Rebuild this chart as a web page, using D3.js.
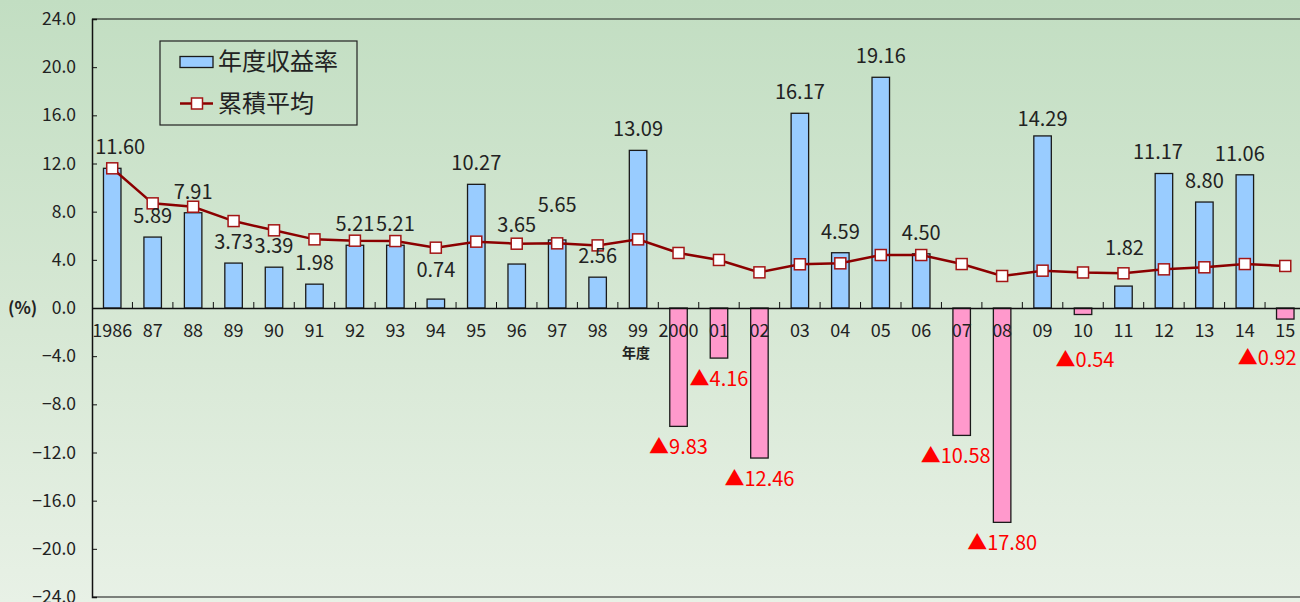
<!DOCTYPE html>
<html>
<head>
<meta charset="utf-8">
<script src="https://cdn.jsdelivr.net/npm/d3@7"></script>
<style>
  body { margin: 0; overflow: hidden; }
  svg { display: block; font-family: "Noto Sans CJK JP", "Noto Sans", sans-serif; }
</style>
</head>
<body>
<div id="chart"></div>
<script>
// data
var years = ['1986', '87', '88', '89', '90', '91', '92', '93', '94', '95', '96', '97', '98', '99', '2000',
             '01', '02', '03', '04', '05', '06', '07', '08', '09', '10', '11', '12', '13', '14', '15']
var annualReturn = [11.60, 5.89, 7.91, 3.73, 3.39, 1.98, 5.21, 5.21, 0.74, 10.27, 3.65, 5.65, 2.56, 13.09, -9.83,
                    -4.16, -12.46, 16.17, 4.59, 19.16, 4.50, -10.58, -17.80, 14.29, -0.54, 1.82, 11.17, 8.80, 11.06, -0.92]
var cumulativeAvg = [11.60, 8.69, 8.41, 7.22, 6.45, 5.70, 5.59, 5.56, 5.01, 5.51, 5.34, 5.37, 5.20, 5.70, 4.57,
                     3.99, 2.96, 3.63, 3.71, 4.40, 4.40, 3.65, 2.66, 3.10, 2.95, 2.88, 3.21, 3.38, 3.65, 3.49]
var yTicks = [24, 20, 16, 12, 8, 4, 0, -4, -8, -12, -16, -20, -24]
var seriesNames = ['年度収益率', '累積平均']

// labels that were moved by hand in the original (pixels)
var labelNudge = { '1986': [8, 0], '94': [0, -8], '96': [0, -18], '97': [0, -14], '09': [0, 4], '11': [1, -17],
                   '12': [-6, 0], '14': [-5, 0], '07': [-6, 0], '10': [2, 24], '15': [-18, 18] }

var W = 1300, H = 602
var margin = { left: 92, top: 19, bottom: 5 }
var step = 40.45

var svg = d3.select('#chart').append('svg')
    .attr('width', W)
    .attr('height', H)

var defs = svg.append('defs')
var grad = defs.append('linearGradient')
    .attr('id', 'bg')
    .attr('x1', 0).attr('y1', 0).attr('x2', 0).attr('y2', 1)
grad.append('stop').attr('offset', '0%').attr('stop-color', '#c2dec2')
grad.append('stop').attr('offset', '50%').attr('stop-color', '#d5e7d3')
grad.append('stop').attr('offset', '100%').attr('stop-color', '#e8f1e6')

svg.append('rect')
    .attr('width', W)
    .attr('height', H)
    .attr('fill', 'url(#bg)')

var x = d3.scaleBand()
    .domain(years)
    .range([margin.left, margin.left + step * years.length])
    .paddingInner(0)

var y = d3.scaleLinear()
    .domain([-24, 24])
    .range([H - margin.bottom, margin.top])

var barW = 17.5

// plot frame
svg.append('line')
    .attr('x1', margin.left).attr('x2', W + 10)
    .attr('y1', y(24)).attr('y2', y(24))
    .attr('stroke', '#111').attr('stroke-width', 1.2)
svg.append('line')
    .attr('x1', margin.left).attr('x2', W + 10)
    .attr('y1', y(-24)).attr('y2', y(-24))
    .attr('stroke', '#111').attr('stroke-width', 1.2)

// y axis, ticks point inwards
var yAxis = d3.axisRight(y)
    .tickValues(yTicks)
    .tickSize(5)
    .tickFormat('')
svg.append('g')
    .attr('transform', 'translate(' + margin.left + ',0)')
    .call(yAxis)
    .call(function(g){
        g.select('.domain').attr('stroke', '#111').attr('stroke-width', 1.5)
        g.selectAll('line').attr('stroke', '#111')
    })

svg.append('g')
    .selectAll('text')
    .data(yTicks)
    .enter()
    .append('text')
        .attr('x', margin.left - 16)
        .attr('y', function(d){ return y(d) })
        .attr('dy', '0.35em')
        .attr('text-anchor', 'end')
        .attr('font-size', 17.5)
        .attr('fill', '#222')
        .text(function(d){ return d3.format('.1f')(d).replace('-', '−') })

svg.append('text')
    .attr('x', 8)
    .attr('y', y(0))
    .attr('dy', '0.35em')
    .attr('font-size', 17)
    .attr('font-weight', 'bold')
    .attr('fill', '#222')
    .text('(%)')

// bars
svg.append('g')
    .selectAll('rect')
    .data(annualReturn)
    .enter()
    .append('rect')
        .attr('x', function(d, i){ return x(years[i]) + x.bandwidth() / 2 - barW / 2 })
        .attr('width', barW)
        .attr('y', function(d){ return y(Math.max(0, d)) })
        .attr('height', function(d){ return Math.abs(y(d) - y(0)) })
        .attr('fill', function(d){ return d >= 0 ? '#99ccff' : '#ff99cc' })
        .attr('stroke', '#1a1a1a')
        .attr('stroke-width', 1.3)

// zero line with category ticks pointing up
svg.append('g')
    .attr('transform', 'translate(0,' + y(0) + ')')
    .call(d3.axisTop(x).tickValues([]).tickSizeOuter(0))
    .call(function(g){
        g.select('.domain').attr('stroke', '#111').attr('stroke-width', 1.5)
    })
svg.append('g')
    .selectAll('line')
    .data(years)
    .enter()
    .append('line')
        .attr('x1', function(d){ return x(d) + x.bandwidth() })
        .attr('x2', function(d){ return x(d) + x.bandwidth() })
        .attr('y1', y(0))
        .attr('y2', y(0) - 6)
        .attr('stroke', '#111')

// category labels sit on top of the negative bars
svg.append('g')
    .selectAll('text')
    .data(years)
    .enter()
    .append('text')
        .attr('x', function(d){ return x(d) + x.bandwidth() / 2 })
        .attr('y', y(0) + 23)
        .attr('dy', '0.35em')
        .attr('text-anchor', 'middle')
        .attr('font-size', 18)
        .attr('fill', '#222')
        .text(function(d){ return d })

svg.append('text')
    .attr('x', x('99') + x.bandwidth() / 2 - 2)
    .attr('y', y(0) + 45)
    .attr('dy', '0.35em')
    .attr('text-anchor', 'middle')
    .attr('font-size', 14)
    .attr('font-weight', 'bold')
    .attr('fill', '#222')
    .text('年度')

// cumulative average line
var line = d3.line()
    .x(function(d, i){ return x(years[i]) + x.bandwidth() / 2 })
    .y(function(d){ return y(d) })

svg.append('path')
    .datum(cumulativeAvg)
    .attr('d', line)
    .attr('fill', 'none')
    .attr('stroke', '#8b0000')
    .attr('stroke-width', 2.5)

svg.append('g')
    .selectAll('rect')
    .data(cumulativeAvg)
    .enter()
    .append('rect')
        .attr('x', function(d, i){ return x(years[i]) + x.bandwidth() / 2 - 5.5 })
        .attr('y', function(d){ return y(d) - 5.5 })
        .attr('width', 11)
        .attr('height', 11)
        .attr('fill', '#fff')
        .attr('stroke', '#a31515')
        .attr('stroke-width', 1.5)

// value labels
svg.append('g')
    .selectAll('text')
    .data(annualReturn)
    .enter()
    .append('text')
        .attr('x', function(d, i){
            var n = labelNudge[years[i]] || [0, 0]
            return x(years[i]) + x.bandwidth() / 2 + n[0] })
        .attr('y', function(d, i){
            var n = labelNudge[years[i]] || [0, 0]
            return y(d) + (d >= 0 ? -21 : 21) + n[1] })
        .attr('dy', '0.35em')
        .attr('text-anchor', 'middle')
        .attr('font-size', 20)
        .attr('fill', function(d){ return d >= 0 ? '#222' : '#ff0000' })
        .text(function(d){ return d >= 0 ? d.toFixed(2) : '▲' + Math.abs(d).toFixed(2) })

// legend
var legend = svg.append('g')
legend.append('rect')
    .attr('x', 160).attr('y', 41)
    .attr('width', 197).attr('height', 84)
    .attr('fill', 'none')
    .attr('stroke', '#222')
    .attr('stroke-width', 1.2)
legend.append('rect')
    .attr('x', 180).attr('y', 56.5)
    .attr('width', 33).attr('height', 11)
    .attr('fill', '#99ccff')
    .attr('stroke', '#1a1a1a')
    .attr('stroke-width', 1.3)
legend.append('line')
    .attr('x1', 180).attr('x2', 213)
    .attr('y1', 103.5).attr('y2', 103.5)
    .attr('stroke', '#8b0000')
    .attr('stroke-width', 2.5)
legend.append('rect')
    .attr('x', 191.5).attr('y', 98)
    .attr('width', 11).attr('height', 11)
    .attr('fill', '#fff')
    .attr('stroke', '#a31515')
    .attr('stroke-width', 1.5)
legend.selectAll('text.name')
    .data(seriesNames)
    .enter()
    .append('text')
        .attr('class', 'name')
        .attr('x', 218)
        .attr('y', function(d, i){ return i === 0 ? 62 : 104 })
        .attr('dy', '0.35em')
        .attr('font-size', 24)
        .attr('fill', '#222')
        .text(function(d){ return d })
</script>
</body>
</html>
